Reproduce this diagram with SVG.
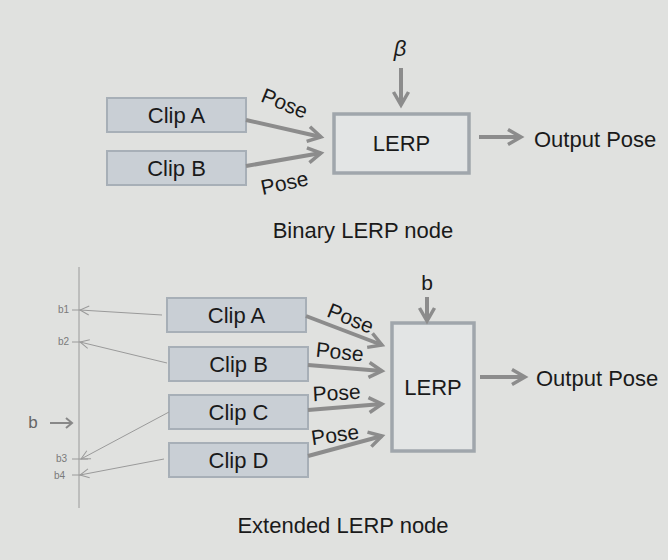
<svg xmlns="http://www.w3.org/2000/svg" width="668" height="560" viewBox="0 0 668 560">
<defs>
<marker id="ah" markerUnits="userSpaceOnUse" markerWidth="20" markerHeight="20" viewBox="0 0 20 20" refX="16" refY="10" orient="auto">
<path d="M3,2.5 L16,10 L3,17.5" fill="none" stroke="#8c8c8c" stroke-width="3.5" stroke-linejoin="miter"/>
</marker>
<marker id="ths" markerUnits="userSpaceOnUse" markerWidth="14" markerHeight="14" viewBox="0 0 14 14" refX="11" refY="7" orient="auto">
<path d="M2,2.5 L11,7 L2,11.5" fill="none" stroke="#9a9a9a" stroke-width="1"/>
</marker>
</defs>
<style>
text{font-family:"Liberation Sans",Arial,sans-serif;fill:#1a1a1a}
.clip rect{fill:#c9cfd5;stroke:#a7afb7;stroke-width:2}
.lerp rect{fill:#e3e5e5;stroke:#a0a6ac;stroke-width:3.5}
.lbl{font-size:22px;text-anchor:middle}
.pose{font-size:21px;text-anchor:middle}
.cap{font-size:22px;text-anchor:middle}
.arr{stroke:#8c8c8c;stroke-width:4;fill:none;marker-end:url(#ah)}
.thin{stroke:#9a9a9a;stroke-width:1;fill:none}
.tick{font-size:10px;fill:#7a7a7a;text-anchor:end}
</style>
<rect width="668" height="560" fill="#e0e1df"/>

<!-- Top: Binary LERP -->
<g id="clipA1" class="clip"><rect x="107" y="98" width="139" height="34"/><text class="lbl" x="176.5" y="123">Clip A</text></g>
<g id="clipB1" class="clip"><rect x="107" y="151" width="139" height="34"/><text class="lbl" x="176.5" y="176">Clip B</text></g>
<g id="lerp1" class="lerp"><rect x="334" y="114" width="135" height="59"/><text class="lbl" x="401.5" y="151">LERP</text></g>
<g id="beta"><text x="400" y="56" font-size="22" font-style="italic" text-anchor="middle">β</text></g>
<g id="out1"><text x="534" y="147" font-size="22">Output Pose</text></g>
<g id="cap1"><text class="cap" x="363" y="238">Binary LERP node</text></g>

<g id="connectors1">
<line class="arr" x1="246" y1="120" x2="321" y2="137"/>
<line class="arr" x1="246" y1="166" x2="321" y2="153"/>
<line class="arr" x1="401" y1="68" x2="401" y2="105"/>
<line class="arr" x1="479" y1="137" x2="521" y2="137"/>
<text class="pose" transform="translate(282,110) rotate(22)">Pose</text>
<text class="pose" transform="translate(286,190) rotate(-12)">Pose</text>
</g>

<!-- Bottom: Extended LERP -->
<g id="clipA2" class="clip"><rect x="167" y="298" width="139" height="34"/><text class="lbl" x="236.5" y="323">Clip A</text></g>
<g id="clipB2" class="clip"><rect x="169" y="347" width="139" height="34"/><text class="lbl" x="238.5" y="372">Clip B</text></g>
<g id="clipC2" class="clip"><rect x="169" y="395" width="139" height="34"/><text class="lbl" x="238.5" y="420">Clip C</text></g>
<g id="clipD2" class="clip"><rect x="169" y="443" width="139" height="34"/><text class="lbl" x="238.5" y="468">Clip D</text></g>
<g id="lerp2" class="lerp"><rect x="392" y="323" width="82" height="128"/><text class="lbl" x="433" y="395">LERP</text></g>
<g id="bIn"><text x="427" y="290" font-size="21" text-anchor="middle">b</text></g>
<g id="out2"><text x="536" y="386" font-size="22">Output Pose</text></g>
<g id="cap2"><text class="cap" x="343" y="533">Extended LERP node</text></g>

<g id="axis">
<line class="thin" x1="79" y1="267" x2="79" y2="508"/>
<line class="thin" x1="72" y1="310" x2="80" y2="310"/>
<line class="thin" x1="72" y1="342" x2="80" y2="342"/>
<line class="thin" x1="72" y1="459" x2="88" y2="459"/>
<line class="thin" x1="72" y1="475" x2="80" y2="475"/>
<text class="tick" x="69" y="313">b1</text>
<text class="tick" x="69" y="345">b2</text>
<text class="tick" x="67" y="462">b3</text>
<text class="tick" x="65" y="479">b4</text>
<text x="33" y="428" font-size="17" text-anchor="middle" style="fill:#666">b</text>
</g>

<g id="connectors2">
<line class="thin" x1="162" y1="315" x2="80" y2="310" marker-end="url(#ths)"/>
<line class="thin" x1="167" y1="363" x2="80" y2="342" marker-end="url(#ths)"/>
<line class="thin" x1="169" y1="412" x2="81" y2="459" marker-end="url(#ths)"/>
<line class="thin" x1="164" y1="459" x2="80" y2="475" marker-end="url(#ths)"/>
<line x1="50" y1="423" x2="72" y2="423" stroke="#888" stroke-width="2"/>
<path d="M66,418 L72,423 L66,428" fill="none" stroke="#888" stroke-width="2"/>
<line class="arr" x1="306" y1="316" x2="382" y2="345"/>
<line class="arr" x1="308" y1="365" x2="382" y2="371"/>
<line class="arr" x1="308" y1="410" x2="382" y2="404"/>
<line class="arr" x1="308" y1="456" x2="382" y2="436"/>
<line class="arr" x1="427" y1="297" x2="427" y2="321"/>
<line class="arr" x1="480" y1="377" x2="525" y2="377"/>
<text class="pose" transform="translate(348,325) rotate(22)">Pose</text>
<text class="pose" transform="translate(339,359) rotate(6)">Pose</text>
<text class="pose" transform="translate(337,400) rotate(-3)">Pose</text>
<text class="pose" transform="translate(336,442) rotate(-8)">Pose</text>
</g>
</svg>
